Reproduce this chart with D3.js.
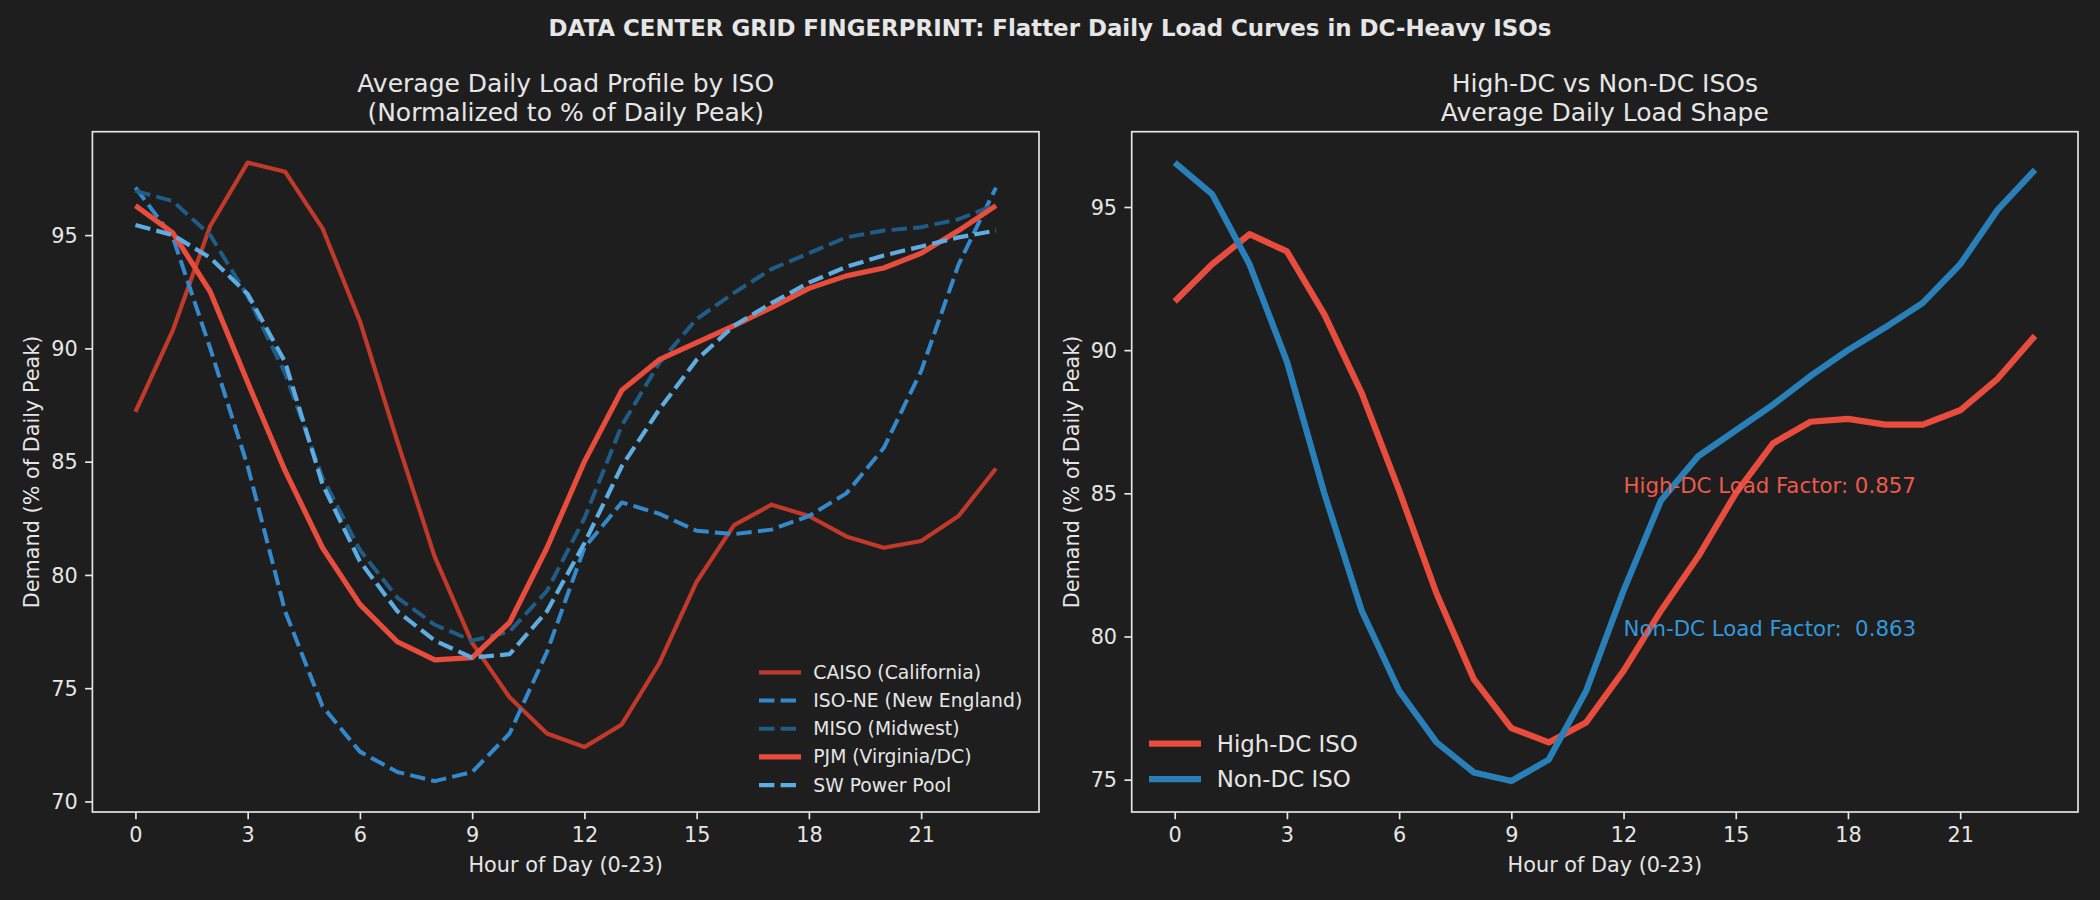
<!DOCTYPE html>
<html>
<head>
<meta charset="utf-8">
<script src="https://cdn.jsdelivr.net/npm/d3@7/dist/d3.min.js"></script>
<style>
  body { margin: 0; background: #1e1e1e; }
  text { font-family: "DejaVu Sans", sans-serif; fill: #e6e6e6; }
</style>
</head>
<body>
<svg id="chart"></svg>
<script>
// hours on the x axis
const hours = [0, 1, 2, 3, 4, 5, 6, 7, 8, 9, 10, 11, 12, 13, 14, 15, 16, 17, 18, 19, 20, 21, 22, 23];
const hourTicks = [0, 3, 6, 9, 12, 15, 18, 21];

// left panel: % of daily peak per ISO
const caiso = [87.2, 90.8, 95.4, 98.2, 97.8, 95.3, 91.2, 85.9, 80.8, 77.0, 74.6, 73.0, 72.4, 73.4, 76.1, 79.7, 82.2, 83.1, 82.6, 81.7, 81.2, 81.5, 82.6, 84.7];
const isoNe = [97.1, 94.9, 90.0, 84.8, 78.4, 74.2, 72.2, 71.3, 70.9, 71.3, 73.0, 76.6, 81.2, 83.2, 82.7, 81.95, 81.8, 82.0, 82.6, 83.6, 85.6, 89.0, 93.7, 97.1];
const miso = [96.95, 96.5, 95.0, 92.3, 88.9, 84.3, 81.1, 79.0, 77.8, 77.1, 77.5, 79.3, 82.5, 86.6, 89.35, 91.3, 92.45, 93.5, 94.2, 94.9, 95.2, 95.35, 95.7, 96.35];
const pjm = [96.3, 95.1, 92.5, 88.5, 84.6, 81.2, 78.7, 77.05, 76.25, 76.35, 77.9, 81.2, 85.0, 88.15, 89.5, 90.25, 91.0, 91.8, 92.65, 93.2, 93.55, 94.2, 95.2, 96.3];
const spp = [95.45, 95.0, 94.0, 92.4, 89.4, 84.0, 80.6, 78.4, 77.1, 76.35, 76.5, 78.4, 81.4, 84.8, 87.3, 89.5, 91.0, 92.0, 92.9, 93.6, 94.1, 94.5, 94.9, 95.2];
const leftTicks = [70, 75, 80, 85, 90, 95];

// right panel: grouped averages
const highDc = [91.7, 93.0, 94.05, 93.45, 91.25, 88.5, 85.1, 81.5, 78.5, 76.8, 76.3, 77.0, 78.8, 80.9, 82.8, 85.0, 86.75, 87.5, 87.6, 87.4, 87.4, 87.9, 89.0, 90.5];
const nonDc = [96.55, 95.45, 93.0, 89.6, 85.0, 80.9, 78.1, 76.3, 75.25, 74.95, 75.7, 78.1, 81.6, 84.75, 86.3, 87.2, 88.1, 89.1, 90.0, 90.8, 91.65, 93.0, 94.9, 96.3];
const rightTicks = [75, 80, 85, 90, 95];
const loadFactors = ["High-DC Load Factor: 0.857", "Non-DC Load Factor:  0.863"];

const W = 2100, H = 900;
const svg = d3.select("#chart").attr("width", W).attr("height", H);
svg.append("rect").attr("width", W).attr("height", H).attr("fill", "#1e1e1e");

svg.append("text")
  .attr("x", W / 2).attr("y", 36)
  .attr("text-anchor", "middle")
  .style("font-size", "22.9px").style("font-weight", "bold")
  .text("DATA CENTER GRID FINGERPRINT: Flatter Daily Load Curves in DC-Heavy ISOs");

const plotTop = 131.7, plotBottom = 812;

function padded(vals) {
  const lo = d3.min(vals), hi = d3.max(vals), m = (hi - lo) * 0.05;
  return [lo - m, hi + m];
}

function drawPanel(left, right, title, series, yTicks) {
  const g = svg.append("g");
  const x = d3.scaleLinear().domain(padded(hours)).range([left, right]);
  const y = d3.scaleLinear().domain(padded(series.flatMap(s => s.values))).range([plotBottom, plotTop]);

  const line = d3.line().x((d, i) => x(hours[i])).y(d => y(d));
  series.forEach(s => {
    g.append("path")
      .attr("d", line(s.values))
      .attr("fill", "none")
      .attr("stroke", s.color)
      .attr("stroke-width", s.width)
      .attr("stroke-dasharray", s.dash || null)
      .attr("stroke-linejoin", "round");
  });

  // axes
  const xa = g.append("g").attr("transform", `translate(0,${plotBottom})`)
    .call(d3.axisBottom(x).tickValues(hourTicks).tickSize(7.3).tickPadding(7.3));
  const ya = g.append("g").attr("transform", `translate(${left},0)`)
    .call(d3.axisLeft(y).tickValues(yTicks).tickSize(7.3).tickPadding(7.3));
  [xa, ya].forEach(a => {
    a.select(".domain").remove();
    a.selectAll("line").attr("stroke", "#e6e6e6").attr("stroke-width", 1.67);
    a.selectAll("text").style("font-size", "20.8px").attr("fill", "#e6e6e6")
      .style("font-family", "'DejaVu Sans', sans-serif");
  });
  xa.selectAll("text").attr("dy", "0.74em");
  ya.selectAll("text").attr("dy", "0.35em");

  g.append("rect")
    .attr("x", left).attr("y", plotTop)
    .attr("width", right - left).attr("height", plotBottom - plotTop)
    .attr("fill", "none").attr("stroke", "#e6e6e6").attr("stroke-width", 1.67);

  const cx = (left + right) / 2;
  g.append("text").attr("x", cx).attr("y", 871.7).attr("text-anchor", "middle")
    .style("font-size", "20.8px").text("Hour of Day (0-23)");
  g.append("text")
    .attr("transform", `translate(${left - 53},${(plotTop + plotBottom) / 2}) rotate(-90)`)
    .attr("text-anchor", "middle")
    .style("font-size", "20.8px").text("Demand (% of Daily Peak)");
  const t = g.append("text").attr("text-anchor", "middle").style("font-size", "25px");
  t.append("tspan").attr("x", cx).attr("y", 91.7).text(title[0]);
  t.append("tspan").attr("x", cx).attr("y", 121).text(title[1]);

  return { g, x, y };
}

const leftSeries = [
  { name: "CAISO (California)", values: caiso, color: "#c0392b", width: 4.2 },
  { name: "ISO-NE (New England)", values: isoNe, color: "#3489cc", width: 4.0, dash: "15.4,6.2" },
  { name: "MISO (Midwest)", values: miso, color: "#1f5d88", width: 4.0, dash: "15.4,6.2" },
  { name: "PJM (Virginia/DC)", values: pjm, color: "#e74c3c", width: 5.2 },
  { name: "SW Power Pool", values: spp, color: "#5dade2", width: 4.2, dash: "15.4,6.2" }
];
drawPanel(92.4, 1039, ["Average Daily Load Profile by ISO", "(Normalized to % of Daily Peak)"], leftSeries, leftTicks);

// left legend
const lg = svg.append("g").attr("transform", "translate(759,672.3)");
leftSeries.forEach((s, i) => {
  lg.append("line").attr("x1", 0).attr("x2", 42).attr("y1", i * 28.2).attr("y2", i * 28.2)
    .attr("stroke", s.color).attr("stroke-width", s.width).attr("stroke-dasharray", s.dash ? "15.4,6.2" : null);
  lg.append("text").attr("x", 54.3).attr("y", i * 28.2).attr("dy", "0.35em")
    .style("font-size", "18.75px").text(s.name);
});

const rightSeries = [
  { name: "High-DC ISO", values: highDc, color: "#e74c3c", width: 6.25 },
  { name: "Non-DC ISO", values: nonDc, color: "#2980b9", width: 6.25 }
];
const rp = drawPanel(1131.7, 2078, ["High-DC vs Non-DC ISOs", "Average Daily Load Shape"], rightSeries, rightTicks);

// keep the double space of the second label
rp.g.append("text").attr("x", rp.x(12)).attr("y", rp.y(85))
  .style("font-size", "21.3px").style("fill", "#ec5a4c").text(loadFactors[0]);
rp.g.append("text").attr("x", rp.x(12)).attr("y", rp.y(80))
  .style("font-size", "21.3px").style("fill", "#3498db")
  .text(loadFactors[1].replace(/  /g, " \u00a0"));

const rg = svg.append("g").attr("transform", "translate(1149,743.7)");
rightSeries.forEach((s, i) => {
  rg.append("line").attr("x1", 0).attr("x2", 52).attr("y1", i * 35.3).attr("y2", i * 35.3)
    .attr("stroke", s.color).attr("stroke-width", s.width);
  rg.append("text").attr("x", 67.7).attr("y", i * 35.3).attr("dy", "0.35em")
    .style("font-size", "22.9px").text(s.name);
});
</script>
</body>
</html>
